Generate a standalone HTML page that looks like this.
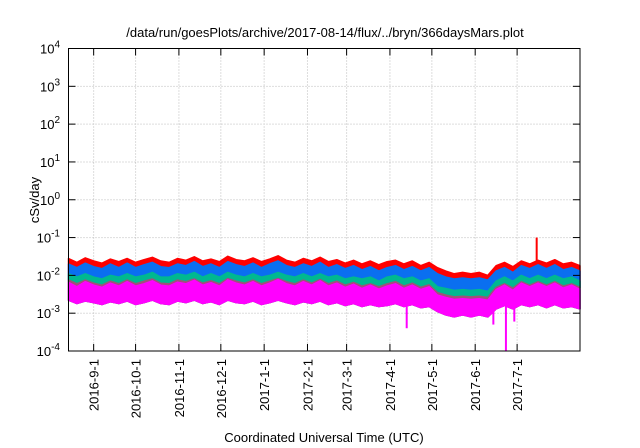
<!DOCTYPE html>
<html><head><meta charset="utf-8">
<style>
html,body{margin:0;padding:0;background:#fff;}
svg{display:block;font-family:"Liberation Sans",sans-serif;}
</style></head>
<body>
<svg id="chart" width="640" height="448" viewBox="0 0 640 448" xmlns="http://www.w3.org/2000/svg">
<rect width="640" height="448" fill="#fff"/>
<text x="325" y="37" font-size="13" text-anchor="middle">/data/run/goesPlots/archive/2017-08-14/flux/../bryn/366daysMars.plot</text>
<text x="324" y="442" font-size="13" text-anchor="middle">Coordinated Universal Time (UTC)</text>
<text transform="translate(39,200) rotate(-90)" font-size="13" text-anchor="middle">cSv/day</text>
<g id="grid"></g><g id="series"></g><g id="axes"></g>
</svg>
<script>
const xTickLabels=["2016-9-1","2016-10-1","2016-11-1","2016-12-1","2017-1-1","2017-2-1","2017-3-1","2017-4-1","2017-5-1","2017-6-1","2017-7-1"];
const xTickDays=[18,48,79,109,140,171,199,230,260,291,321];
const yTickExps=[-4,-3,-2,-1,0,1,2,3,4];
const redHi=[0.028,0.022,0.029,0.024,0.021,0.027,0.023,0.028,0.022,0.026,0.030,0.024,0.022,0.028,0.025,0.031,0.024,0.027,0.023,0.032,0.026,0.024,0.029,0.023,0.027,0.033,0.025,0.022,0.028,0.024,0.030,0.023,0.026,0.021,0.025,0.020,0.024,0.019,0.023,0.025,0.020,0.024,0.018,0.022,0.016,0.013,0.011,0.012,0.011,0.012,0.010,0.018,0.022,0.017,0.024,0.020,0.025,0.021,0.026,0.020,0.022,0.018];
const blueHi=[0.020,0.016,0.021,0.017,0.015,0.020,0.016,0.021,0.016,0.019,0.022,0.017,0.016,0.020,0.018,0.023,0.017,0.020,0.016,0.023,0.019,0.017,0.021,0.016,0.020,0.024,0.018,0.016,0.020,0.017,0.022,0.016,0.019,0.015,0.018,0.014,0.017,0.013,0.016,0.018,0.014,0.017,0.013,0.016,0.011,0.009,0.008,0.0085,0.008,0.0085,0.0075,0.013,0.016,0.012,0.018,0.015,0.019,0.015,0.019,0.014,0.016,0.013];
const greenHi=[0.011,0.009,0.011,0.009,0.008,0.010,0.009,0.011,0.009,0.010,0.012,0.009,0.009,0.011,0.010,0.012,0.009,0.011,0.009,0.012,0.010,0.009,0.011,0.009,0.010,0.012,0.010,0.009,0.011,0.009,0.011,0.009,0.010,0.008,0.009,0.008,0.009,0.007,0.009,0.010,0.008,0.009,0.007,0.008,0.005,0.0045,0.004,0.0042,0.004,0.0042,0.0038,0.007,0.009,0.007,0.010,0.008,0.010,0.008,0.010,0.008,0.009,0.007];
const purpleHi=[0.0075,0.006,0.0075,0.0062,0.0055,0.007,0.006,0.0075,0.006,0.007,0.008,0.0062,0.006,0.0075,0.0068,0.008,0.0062,0.0072,0.006,0.0082,0.007,0.0062,0.0075,0.006,0.007,0.0082,0.0068,0.006,0.0075,0.0062,0.0078,0.006,0.007,0.0055,0.0065,0.0052,0.006,0.005,0.006,0.0068,0.0052,0.0062,0.0048,0.0056,0.0035,0.003,0.0027,0.0028,0.0027,0.0028,0.0026,0.0048,0.006,0.0046,0.0068,0.0055,0.0068,0.0055,0.0068,0.0052,0.006,0.0048];
const magentaHi=[0.0065,0.005,0.0068,0.0055,0.0048,0.0062,0.0052,0.0068,0.0052,0.006,0.0072,0.0055,0.0052,0.0066,0.006,0.0074,0.0055,0.0064,0.0052,0.0076,0.0062,0.0055,0.0068,0.0052,0.0062,0.0078,0.006,0.0052,0.0068,0.0055,0.0072,0.0052,0.0062,0.0048,0.0058,0.0045,0.0055,0.0043,0.0052,0.006,0.0045,0.0055,0.0042,0.005,0.003,0.0026,0.0023,0.0024,0.0023,0.0024,0.0022,0.0042,0.0055,0.004,0.0062,0.005,0.0062,0.005,0.0062,0.0046,0.0055,0.0042];
const magentaLo=[0.0022,0.0018,0.0021,0.0019,0.0017,0.0020,0.0018,0.0021,0.0017,0.0019,0.0022,0.0018,0.0017,0.0021,0.0019,0.0022,0.0018,0.0020,0.0017,0.0022,0.0019,0.0018,0.0021,0.0017,0.0019,0.0022,0.0019,0.0017,0.0020,0.0018,0.0021,0.0017,0.0019,0.0016,0.0018,0.0015,0.0017,0.0015,0.0016,0.0018,0.0015,0.0017,0.0014,0.0015,0.0011,0.0009,0.0008,0.0009,0.0008,0.0009,0.0008,0.0013,0.0016,0.0013,0.0017,0.0015,0.0017,0.0014,0.0017,0.0014,0.0015,0.0013];
const spikeDays=[242,304,313,319,335];
const spikeVals=[0.0004,0.0005,0.0001,0.0006,0.1];
const spikeColors=["#ff00ff","#ff00ff","#ff00ff","#ff00ff","#ff0000"];
const NS="http://www.w3.org/2000/svg";
const L=68.5,R=580,T=48.5,B=351,D=366;
const xS=d=>L+(R-L)*d/D;
const yS=v=>B-(Math.log10(v)+4)*(B-T)/8;
function mk(tag,attrs,parent){const e=document.createElementNS(NS,tag);for(const k in attrs)e.setAttribute(k,attrs[k]);parent.appendChild(e);return e;}
const grid=document.getElementById('grid'),ser=document.getElementById('series'),ax=document.getElementById('axes');
yTickExps.forEach(p=>{const y=yS(Math.pow(10,p));
 if(p>-4&&p<4){const g=mk('line',{x1:L,x2:R,y1:y,y2:y,stroke:'#bbb','stroke-dasharray':'1,2','stroke-width':1},grid);
 
 }
 const t=mk('line',{x1:L,x2:L+7,y1:y,y2:y,stroke:'#000'},ax);
 const t2=mk('line',{x1:R,x2:R-7,y1:y,y2:y,stroke:'#000'},ax);
 const lb=mk('text',{x:60,y:y+5,'font-size':13,'text-anchor':'end'},ax);
 
 
 lb.innerHTML='10<tspan dy="-6" font-size="10">'+p+'</tspan>';
});
xTickDays.forEach((d,i)=>{const x=xS(d);
 const g=mk('line',{x1:x,x2:x,y1:T,y2:B,stroke:'#bbb','stroke-dasharray':'1,2'},grid);
 
 
 mk('line',{x1:x,x2:x,y1:B,y2:B-7,stroke:'#000'},ax);
 mk('line',{x1:x,x2:x,y1:T,y2:T+7,stroke:'#000'},ax);
 const lb=mk('text',{transform:`translate(${x+5},${B+8}) rotate(-90)`,'font-size':13,'text-anchor':'end'},ax);
 
 
 lb.textContent=xTickLabels[i];
});
function band(hi,lo,color,name){const n=hi.length;let pts=[];
 for(let i=0;i<n;i++)pts.push(xS(i*D/(n-1)).toFixed(1)+','+yS(hi[i]).toFixed(1));
 for(let i=n-1;i>=0;i--)pts.push(xS(i*D/(n-1)).toFixed(1)+','+yS(lo[i]).toFixed(1));
 const p=mk('polygon',{points:pts.join(' '),fill:color,stroke:color,'stroke-width':1.5,'stroke-linejoin':'round'},ser);
 
 }
band(redHi,purpleHi,'#ff0000','series-red');
band(blueHi,purpleHi,'#0a6ff0','series-blue');
band(greenHi,magentaLo,'#00b890','series-green');
band(purpleHi,magentaLo,'#a0507a','series-purple');
band(magentaHi,magentaLo,'#ff00ff','series-magenta');
spikeDays.forEach((d,i)=>{const x=xS(d);const v=spikeVals[i];
 const base=v>0.01?0.02:0.0015;
 const s=mk('line',{x1:x,x2:x,y1:yS(base),y2:yS(v),stroke:spikeColors[i],'stroke-width':2},ser);
 
 });
const fr=mk('rect',{x:L,y:T,width:R-L,height:B-T,fill:'none',stroke:'#000','stroke-width':1},ax);


</script>
</body></html>
